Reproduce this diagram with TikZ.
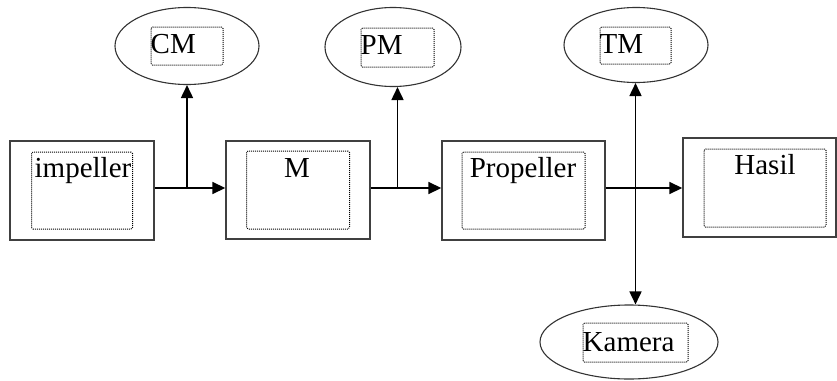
\documentclass[tikz,border=0pt]{standalone}
\usepackage{fontspec}
\setmainfont{Liberation Serif}
\usetikzlibrary{shapes.geometric,arrows.meta}
\tikzset{
    blok/.style={draw=black!75, line width=1.4pt, rectangle, inner sep=0pt},
    kotak/.style={draw=black, dash pattern=on 1pt off 1pt, line width=1pt, rectangle,
        rounded corners=1.5pt, inner sep=0pt},
    elips/.style={draw=black!80, line width=1.1pt, ellipse, inner sep=0pt},
    tulis/.style={font=\fontsize{29}{34}\selectfont, inner sep=0pt, anchor=base},
    panah/.style={line width=1.7pt, -{Triangle[length=13pt, width=12pt]}}
}
\begin{document}
\begin{tikzpicture}[x=1pt, y=-1pt]
    \useasboundingbox (0,0) rectangle (837,380);
    % kotak utama
    \node[blok, minimum width=144, minimum height=99] (imp) at (82,190.5) {};
    \node[blok, minimum width=144, minimum height=98] (m) at (298,190) {};
    \node[blok, minimum width=163, minimum height=99] (prop) at (523.5,190.5) {};
    \node[blok, minimum width=153, minimum height=99] (hasil) at (759.5,187.5) {};
    \node[kotak, minimum width=101, minimum height=77] (impin) at (imp) {};
    \node[kotak, minimum width=103, minimum height=78] (min) at (m) {};
    \node[kotak, minimum width=123, minimum height=77] (propin) at (prop) {};
    \node[kotak, minimum width=122, minimum height=78] (hasilin) at (765,188) {};
    \node[tulis] (impt) at (83,177) {impeller};
    \node[tulis] (mt) at (297,177) {M};
    \node[tulis] (propt) at (523,177) {Propeller};
    \node[tulis] (hasilt) at (765,174) {Hasil};
    % elips
    \node[elips, minimum width=144, minimum height=77] (cm) at (187,46) {};
    \node[elips, minimum width=136, minimum height=79] (pm) at (393,47) {};
    \node[elips, minimum width=144, minimum height=75] (tm) at (636,45) {};
    \node[elips, minimum width=178, minimum height=74] (kam) at (629,342) {};
    \node[kotak, minimum width=72, minimum height=38] (cmin) at (187,46) {};
    \node[kotak, minimum width=73, minimum height=39] (pmin) at (397.5,47.5) {};
    \node[kotak, minimum width=71, minimum height=37] (tmin) at (635.5,45.5) {};
    \node[kotak, minimum width=105, minimum height=39] (kamin) at (635.5,342.5) {};
    \node[tulis, anchor=base west] (cmt) at (cmin.west |- 0,53) {CM};
    \node[tulis, anchor=base west] (pmt) at (pmin.west |- 0,54) {PM};
    \node[tulis, anchor=base west] (tmt) at (tmin.west |- 0,53) {TM};
    \node[tulis, anchor=base west] (kamt) at (kamin.west |- 0,351) {Kamera};
    % panah
    \draw[panah] (imp.east |- 0,188) -- (m.west |- 0,188);
    \draw[panah] (m.east |- 0,188) -- (prop.west |- 0,188);
    \draw[panah] (prop.east |- 0,188) -- (hasil.west |- 0,188);
    \coordinate (cabang1) at (cmin.center |- 0,188);
    \coordinate (cabang2) at (pmin.center |- 0,188);
    \coordinate (cabang3) at (tmin.center |- 0,188);
    \draw[panah] (cabang1) -- (cabang1 |- cm.south);
    \draw[panah] (cabang2) -- (cabang2 |- pm.south);
    \draw[panah] (cabang3) -- (cabang3 |- tm.south);
    \draw[panah] (cabang3) -- (cabang3 |- kam.north);
\end{tikzpicture}
\end{document}
